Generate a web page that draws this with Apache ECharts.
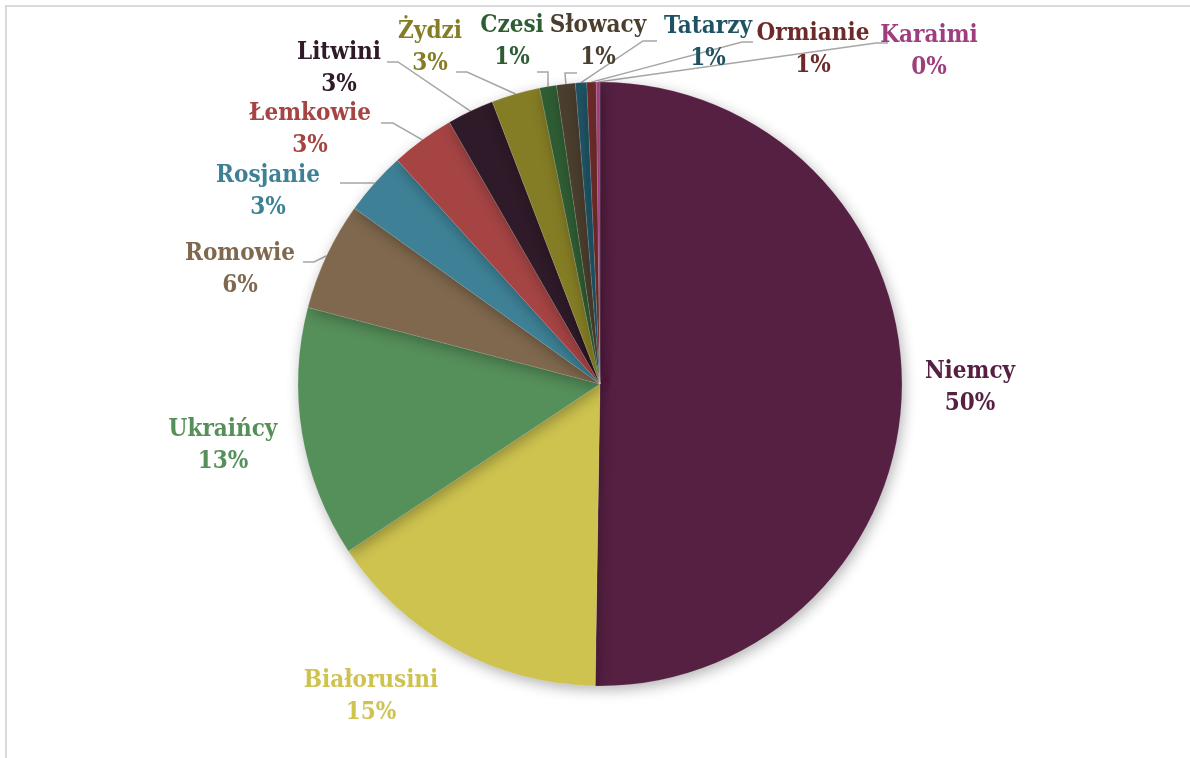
<!DOCTYPE html>
<html>
<head>
<meta charset="utf-8">
<script src="https://cdn.jsdelivr.net/npm/echarts@6/dist/echarts.min.js"></script>
<style>
  html, body { margin: 0; padding: 0; background: #fff; }
  #frame { position: absolute; left: 5px; top: 5px; width: 1200px; height: 760px;
           border-top: 2px solid #D9D9D9; border-left: 2px solid #D9D9D9; }
  #main { position: absolute; left: 0; top: 0; width: 1190px; height: 758px; }
</style>
</head>
<body>
<div id="frame"></div>
<div id="main"></div>
<script>
var names = ['Niemcy', 'Białorusini', 'Ukraińcy', 'Romowie', 'Rosjanie', 'Łemkowie', 'Litwini',
             'Żydzi', 'Czesi', 'Słowacy', 'Tatarzy', 'Ormianie', 'Karaimi'];
var shares = [50.2, 15.4, 13.4, 5.8, 3.4, 3.4, 2.5, 2.6, 0.9, 1.0, 0.6, 0.5, 0.2];
var colors = ['#552042', '#CEC34F', '#558F5A', '#7F684D', '#3E8196', '#A64444', '#2E1A28',
              '#857D25', '#2F5D33', '#4A3E2E', '#1F5364', '#6C2A2A', '#9F3E7F'];

// where each label sits (text block centre) and where its leader line bends / ends
var labelSpots = [
  { at: [970, 388] },
  { at: [371, 697] },
  { at: [223, 446] },
  { at: [240, 270], knee: [314, 262], end: [303, 262] },
  { at: [268, 192], knee: [370, 183], end: [340, 183] },
  { at: [310, 130], knee: [393, 123], end: [381, 123] },
  { at: [339, 69],  knee: [398, 62],  end: [387, 62] },
  { at: [430, 48],  knee: [467, 72],  end: [456, 72] },
  { at: [512, 42],  knee: [548, 72],  end: [537, 72] },
  { at: [598, 42],  knee: [565, 73],  end: [577, 73] },
  { at: [708, 43],  knee: [643, 41],  end: [657, 41] },
  { at: [813, 50],  knee: [742, 42],  end: [753, 42] },
  { at: [929, 52],  knee: [876, 43],  end: [888, 43] }
];

var chart = echarts.init(document.getElementById('main'));

var items = names.map(function(n, i) {
  return {
    name: n,
    value: shares[i],
    itemStyle: { color: colors[i] },
    label: { color: colors[i] },
    labelLine: { show: !!labelSpots[i].knee }
  };
});

chart.setOption({
  animation: false,
  series: [{
    type: 'pie',
    center: [600, 384],
    radius: [0, 302],
    startAngle: 90,
    clockwise: true,
    avoidLabelOverlap: false,
    data: items,
    itemStyle: {
      borderColor: 'rgba(255,255,255,0.25)',
      borderWidth: 0.5,
      shadowBlur: 14,
      shadowColor: 'rgba(0,0,0,0.3)',
      shadowOffsetX: 2,
      shadowOffsetY: 4
    },
    label: {
      position: 'outside',
      fontFamily: 'DejaVu Serif Condensed',
      fontWeight: 'bold',
      fontSize: 24,
      lineHeight: 32,
      align: 'center',
      formatter: function(p) {
        return p.name + '\n' + Math.round(p.value) + '%';
      }
    },
    labelLine: {
      length: 14,
      length2: 20,
      lineStyle: { color: '#A6A6A6', width: 1.5 }
    },
    labelLayout: function(p) {
      var s = labelSpots[p.dataIndex];
      var out = { x: s.at[0], y: s.at[1], align: 'center', verticalAlign: 'middle' };
      if (s.knee && p.labelLinePoints) {
        out.labelLinePoints = [p.labelLinePoints[0], s.knee, s.end];
      }
      return out;
    }
  }]
});
</script>
</body>
</html>
